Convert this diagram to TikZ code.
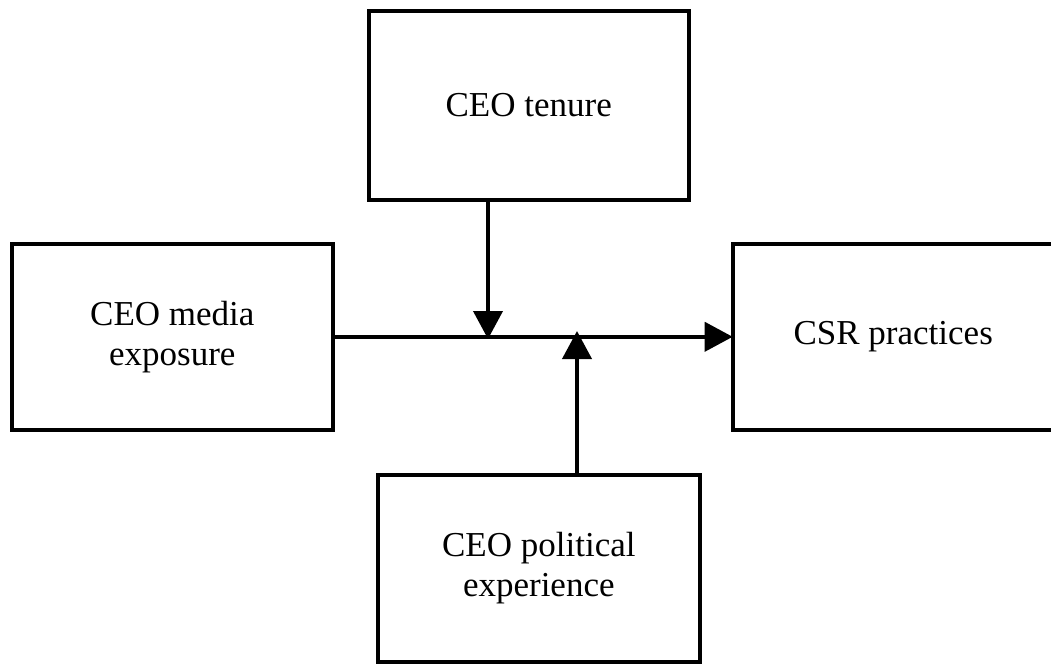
\documentclass[tikz,border=0pt]{standalone}
\usepackage{fontspec}
\setmainfont{Liberation Serif}
\usetikzlibrary{arrows.meta}
\begin{document}
\begin{tikzpicture}[x=1pt,y=-1pt,
  box/.style={draw=black, line width=4pt, rectangle, outer sep=0pt, inner sep=0pt,
    align=center, font=\fontsize{35}{40}\selectfont},
  conn/.style={line width=4pt, -{Triangle[width=29pt,length=28pt]}}]
\useasboundingbox (0,0) rectangle (1051,664);
\node[box, minimum width=320pt, minimum height=189pt] (tenure) at (528.7,105) {CEO tenure};
\node[box, minimum width=321pt, minimum height=186pt] (media) at (172.3,336.8) {CEO media\\exposure};
\node[box, minimum width=321pt, minimum height=186pt] (csr) at (893.2,336.8) {CSR practices};
\node[box, minimum width=322.5pt, minimum height=187pt] (pol) at (538.8,568.5) {CEO political\\experience};
\coordinate (j1) at (488,339);
\coordinate (j2) at (577,331);
\draw[conn] (media.east) -- (csr.west);
\draw[conn] (tenure.south -| j1) -- (j1);
\draw[conn] (pol.north -| j2) -- (j2);
\end{tikzpicture}
\end{document}
